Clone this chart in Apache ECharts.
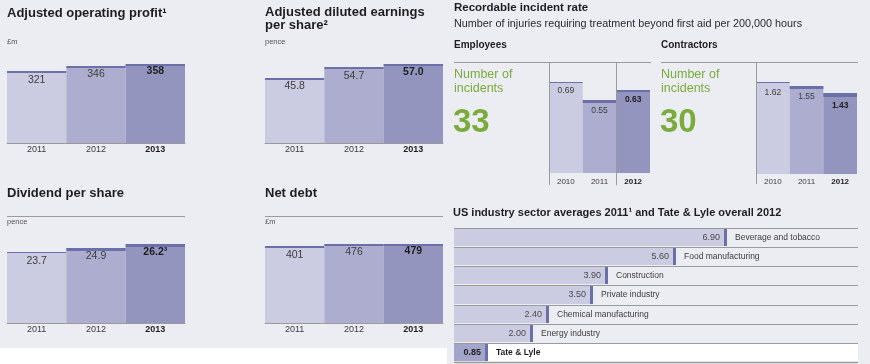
<!DOCTYPE html>
<html><head><meta charset="utf-8">
<script src="https://cdn.jsdelivr.net/npm/echarts/dist/echarts.min.js"></script>
<style>html,body{margin:0;padding:0;background:#ecedf3}#c{width:870px;height:364px}</style>
</head><body><div id="c"></div>
<script>
// ---- data ----
const years3 = ['2011', '2012', '2013'];
const yearsSafety = ['2010', '2011', '2012'];
const profitValues = [321, 346, 358];
const epsValues = [45.8, 54.7, 57.0];
const dividendValues = [23.7, 24.9, 26.2];
const dividendNotes = ['', '', '³'];
const netDebtValues = [401, 476, 479];
const employeeRates = [0.69, 0.55, 0.63];
const contractorRates = [1.62, 1.55, 1.43];
const employeeIncidents = '33';
const contractorIncidents = '30';
const sectorNames = ['Beverage and tobacco', 'Food manufacturing', 'Construction', 'Private industry', 'Chemical manufacturing', 'Energy industry', 'Tate & Lyle'];
const sectorValues = [6.90, 5.60, 3.90, 3.50, 2.40, 2.00, 0.85];

// ---- style ----
const FF = '"Liberation Sans", Arial, Helvetica, sans-serif';
const barColors = ['#cbcce1', '#adaecf', '#9495bf'];
const bandColor = '#6c70a8';
const green = '#7aab3b';
const lineGray = '#9a9a9a';

const chart = echarts.init(document.getElementById('c'), null, {renderer: 'canvas'});

function vbar(gi, values, bands, fmt, offs, fs, notes) {
  return {
    type: 'custom', xAxisIndex: gi, yAxisIndex: gi,
    data: values.map((v, i) => [i, v]),
    encode: {x: 0, y: 1},
    renderItem(params, api) {
      const i = api.value(0), v = api.value(1);
      const cs = params.coordSys;
      const p = api.coord([i, v]);
      const w = api.size([1, 0])[0];
      const base = cs.y + cs.height;
      const x0 = p[0] - w / 2;
      const top = Math.round(p[1]);
      return {type: 'group', children: [
        {type: 'rect', shape: {x: x0, y: top, width: w, height: base - top}, style: {fill: barColors[i]}},
        {type: 'rect', shape: {x: x0, y: top, width: w, height: bands[i]}, style: {fill: bandColor}},
        {type: 'text', x: p[0], y: top + offs[i], style: {text: fmt(v) + (notes ? notes[i] : ''), align: 'center', verticalAlign: 'middle', fontSize: fs, fontFamily: FF, fontWeight: i === 2 ? 'bold' : 'normal', fill: i === 2 ? '#1e1e1e' : '#3c3c3c'}}
      ]};
    }
  };
}

function xcat(gi, data, showLine, fs, margin) {
  return {
    type: 'category', gridIndex: gi, data: data,
    axisTick: {show: false},
    axisLine: {show: showLine, onZero: false, lineStyle: {color: lineGray, width: 1}},
    axisLabel: {
      interval: 0,
      fontSize: fs, fontFamily: FF, color: '#3c3c3c', margin: margin,
      formatter: (val, idx) => idx === 2 ? '{b|' + val + '}' : val,
      rich: {b: {fontWeight: 'bold', fontSize: fs, fontFamily: FF, color: '#1e1e1e'}}
    }
  };
}
function yval(gi, min, max) {
  return {type: 'value', gridIndex: gi, min: min, max: max, show: false};
}

function txt(x, y, text, fs, opts) {
  opts = opts || {};
  return {type: 'text', x: x, y: y, z: 50, style: Object.assign({text: text, fontSize: fs, fontFamily: FF, fill: '#1e1e1e', verticalAlign: 'middle', align: 'left'}, opts)};
}
function ln(x1, y1, x2, y2) {
  return {type: 'line', z: 60, shape: {x1: x1, y1: y1, x2: x2, y2: y2}, style: {stroke: lineGray, lineWidth: 1}};
}

const hbar = {
  type: 'custom', xAxisIndex: 6, yAxisIndex: 6,
  data: sectorValues.map((v, i) => [v, i]),
  encode: {x: 0, y: 1},
  renderItem(params, api) {
    const v = api.value(0), i = api.value(1);
    const cs = params.coordSys;
    const p = api.coord([v, i]);
    const h = api.size([0, 1])[1];
    const rowTop = Math.round(p[1] - h / 2);
    const rowBot = Math.round(p[1] + h / 2);
    const end = Math.round(p[0]);
    const last = i === sectorNames.length - 1;
    const ch = [];
    if (last) ch.push({type: 'rect', shape: {x: end, y: rowTop + 1, width: cs.x + cs.width - end, height: rowBot - rowTop - 1}, style: {fill: '#ffffff'}});
    ch.push({type: 'rect', shape: {x: cs.x, y: rowTop + 1, width: end - cs.x, height: rowBot - rowTop - 2}, style: {fill: last ? '#a3a4ca' : '#cbcce1'}});
    ch.push({type: 'rect', shape: {x: end - 3, y: rowTop + 1, width: 3, height: rowBot - rowTop - 2}, style: {fill: bandColor}});
    ch.push({type: 'line', shape: {x1: cs.x, y1: rowTop + 0.5, x2: cs.x + cs.width, y2: rowTop + 0.5}, style: {stroke: lineGray, lineWidth: 1}});
    if (last) ch.push({type: 'line', shape: {x1: cs.x, y1: rowBot + 0.5, x2: cs.x + cs.width, y2: rowBot + 0.5}, style: {stroke: lineGray, lineWidth: 1.5}});
    ch.push({type: 'text', x: end - 7, y: (rowTop + rowBot) / 2, style: {text: v.toFixed(2), align: 'right', verticalAlign: 'middle', fontSize: 9, fontFamily: FF, fontWeight: last ? 'bold' : 'normal', fill: last ? '#1e1e1e' : '#4a4a4a'}});
    ch.push({type: 'text', x: end + 8, y: (rowTop + rowBot) / 2, style: {text: sectorNames[i], align: 'left', verticalAlign: 'middle', fontSize: 8.5, fontFamily: FF, fontWeight: last ? 'bold' : 'normal', fill: last ? '#1e1e1e' : '#3c3c3c'}});
    return {type: 'group', children: ch};
  }
};

const option = {
  backgroundColor: '#ecedf3',
  animation: false,
  grid: [
    {left: 7, top: 64, width: 178, height: 79},
    {left: 265, top: 64, width: 178, height: 79},
    {left: 7, top: 244, width: 178, height: 79},
    {left: 265, top: 244, width: 178, height: 79},
    {left: 549, top: 82, width: 101, height: 91},
    {left: 756, top: 82, width: 101, height: 92},
    {left: 454, top: 228, width: 404, height: 134}
  ],
  xAxis: [
    xcat(0, years3, true, 9, 2),
    xcat(1, years3, true, 9, 2),
    xcat(2, years3, true, 9, 2),
    xcat(3, years3, true, 9, 2),
    xcat(4, yearsSafety, false, 8, 5),
    xcat(5, yearsSafety, false, 8, 4),
    {type: 'value', gridIndex: 6, min: 0, max: 10.2, show: false}
  ],
  yAxis: [
    yval(0, -60, 358),
    yval(1, -6, 57),
    yval(2, 0, 26.2),
    yval(3, -2000, 479),
    yval(4, 0, 0.69),
    yval(5, 0, 1.62),
    {type: 'category', gridIndex: 6, data: sectorNames, inverse: true, show: false}
  ],
  series: [
    vbar(0, profitValues, [2, 2, 2], v => v.toFixed(0), [9, 8, 7], 10.5),
    vbar(1, epsValues, [2, 2, 2], v => v.toFixed(1), [8, 9, 8], 10.5),
    vbar(2, dividendValues, [1, 3, 3], v => v.toFixed(1), [9, 8, 8], 10.5, dividendNotes),
    vbar(3, netDebtValues, [2, 2, 2], v => v.toFixed(0), [9, 8, 7], 10.5),
    vbar(4, employeeRates, [1, 3, 2], v => v.toFixed(2), [9, 11, 10], 8.5),
    vbar(5, contractorRates, [1, 3, 4], v => v.toFixed(2), [11, 11, 13], 8.5),
    hbar
  ],
  graphic: [
    {type: 'rect', z: 1, shape: {x: 0, y: 348, width: 447, height: 16}, style: {fill: '#ffffff'}},
    txt(7, 13, 'Adjusted operating profit¹', 13, {fontWeight: 'bold'}),
    txt(265, 12, 'Adjusted diluted earnings', 13, {fontWeight: 'bold'}),
    txt(265, 25, 'per share²', 13, {fontWeight: 'bold'}),
    txt(7, 193, 'Dividend per share', 13, {fontWeight: 'bold'}),
    txt(265, 193, 'Net debt', 13, {fontWeight: 'bold'}),
    txt(7, 42, '£m', 7.5, {fill: '#555'}),
    txt(265, 42, 'pence', 7.5, {fill: '#555'}),
    txt(7, 222, 'pence', 7.5, {fill: '#555'}),
    txt(265, 222, '£m', 7.5, {fill: '#555'}),
    ln(7, 216.5, 185, 216.5),
    ln(265, 216.5, 443, 216.5),
    txt(454, 8, 'Recordable incident rate', 11.5, {fontWeight: 'bold'}),
    txt(454, 24, 'Number of injuries requiring treatment beyond first aid per 200,000 hours', 10.8, {fill: '#2a2a2a'}),
    txt(454, 45, 'Employees', 10, {fontWeight: 'bold'}),
    txt(661, 45, 'Contractors', 10, {fontWeight: 'bold'}),
    ln(454, 62.5, 651, 62.5),
    ln(661, 62.5, 858, 62.5),
    ln(549.5, 62, 549.5, 185),
    ln(616.5, 62, 616.5, 185),
    ln(756.5, 62, 756.5, 184),
    txt(454, 75, 'Number of', 12.5, {fill: green}),
    txt(454, 89, 'incidents', 12.5, {fill: green}),
    txt(453, 123, employeeIncidents, 33, {fill: green, fontWeight: 'bold'}),
    txt(661, 75, 'Number of', 12.5, {fill: green}),
    txt(661, 89, 'incidents', 12.5, {fill: green}),
    txt(660, 123, contractorIncidents, 33, {fill: green, fontWeight: 'bold'}),
    txt(453, 213, 'US industry sector averages 2011¹ and Tate & Lyle overall 2012', 11, {fontWeight: 'bold'})
  ]
};
chart.setOption(option);
</script>
</body></html>
